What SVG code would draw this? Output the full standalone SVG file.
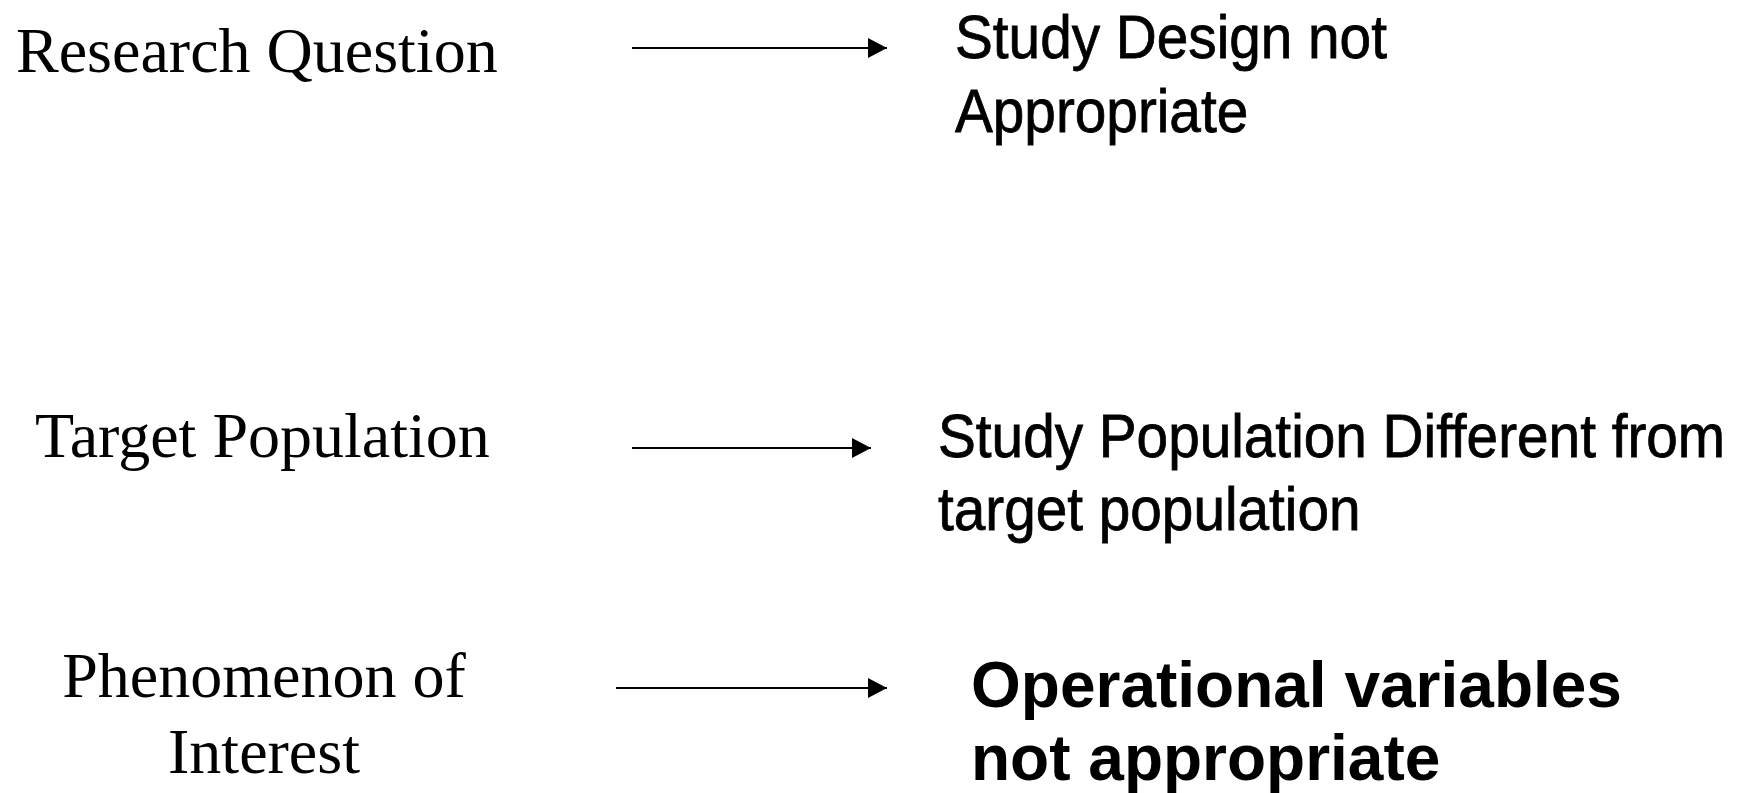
<svg xmlns="http://www.w3.org/2000/svg" width="1749" height="793" viewBox="0 0 1749 793">
  <style>
    .src { font-family: "Liberation Serif", "Times New Roman", serif; font-size: 64px; fill: #000; }
    .dst { font-family: "Liberation Sans", Arial, sans-serif; font-size: 62px; fill: #000; stroke: #000; stroke-width: 0.8px; }
    .dstb { font-family: "Liberation Sans", Arial, sans-serif; font-size: 64px; font-weight: bold; fill: #000; }
    .conn { stroke: #000; stroke-width: 2.2; fill: none; }
  </style>
  <defs>
    <marker id="head" markerUnits="userSpaceOnUse" markerWidth="20" markerHeight="20" refX="19" refY="10" orient="auto" viewBox="0 0 20 20">
      <path d="M0,0 L19,10 L0,20 z" fill="#000"/>
    </marker>
  </defs>
  <rect width="1749" height="793" fill="#fff"/>

  <g id="node-research-question">
    <text class="src" x="16" y="72">Research Question</text>
  </g>
  <g id="node-study-design" transform="translate(955,0) scale(0.915,1)">
    <text class="dst" x="0" y="58">Study Design not</text>
    <text class="dst" x="0" y="132">Appropriate</text>
  </g>
  <g id="node-target-population">
    <text class="src" x="35" y="457">Target Population</text>
  </g>
  <g id="node-study-population" transform="translate(938,0) scale(0.915,1)">
    <text class="dst" x="0" y="457">Study Population Different from</text>
    <text class="dst" x="0" y="530">target population</text>
  </g>
  <g id="node-phenomenon">
    <text class="src" x="264" y="697" text-anchor="middle">Phenomenon of</text>
    <text class="src" x="264" y="773" text-anchor="middle">Interest</text>
  </g>
  <g id="node-operational">
    <text class="dstb" x="971" y="707">Operational variables</text>
    <text class="dstb" x="971" y="780">not appropriate</text>
  </g>

  <g id="connectors">
    <line class="conn" x1="632" y1="48" x2="887" y2="48" marker-end="url(#head)"/>
    <line class="conn" x1="632" y1="448" x2="871" y2="448" marker-end="url(#head)"/>
    <line class="conn" x1="616" y1="688" x2="887" y2="688" marker-end="url(#head)"/>
  </g>
</svg>
